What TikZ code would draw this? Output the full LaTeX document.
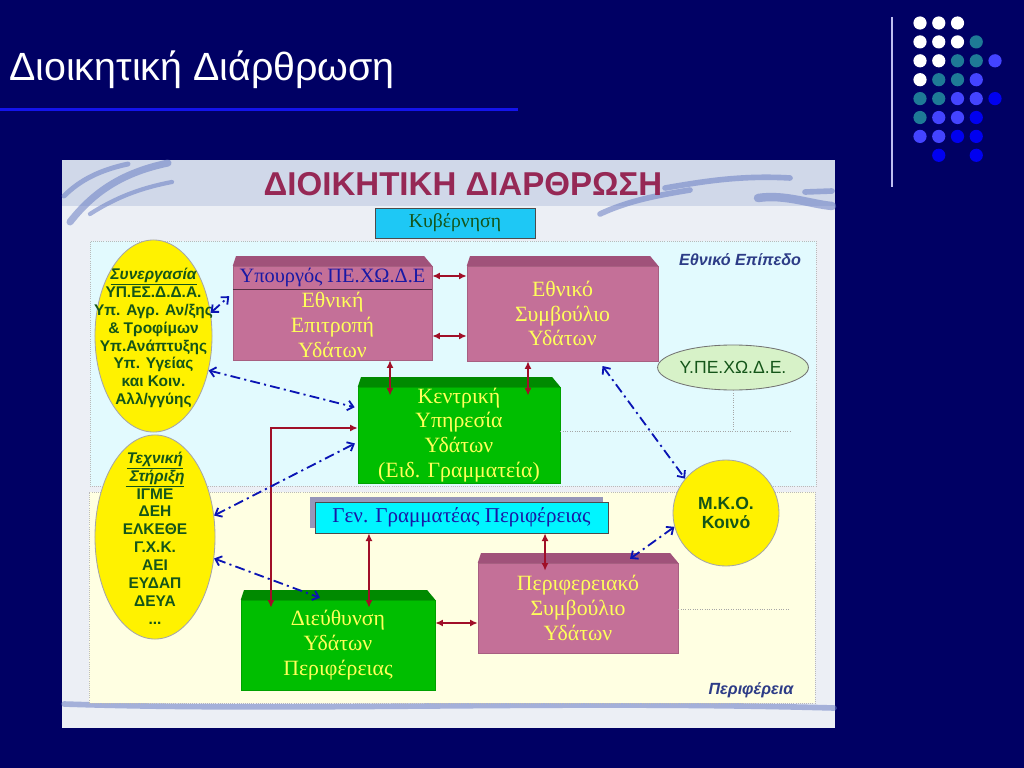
\documentclass[tikz,border=0pt]{standalone}
\usepackage{fontspec}
\setmainfont{Liberation Serif}
\setsansfont{Liberation Sans}
\usetikzlibrary{arrows.meta,shapes.geometric,shadows}

\definecolor{slidebg}{RGB}{0,0,100}
\definecolor{rulebl}{RGB}{20,20,235}
\definecolor{paper}{RGB}{236,239,245}
\definecolor{band}{RGB}{208,216,233}
\definecolor{wave}{RGB}{105,125,195}
\definecolor{natfill}{RGB}{226,250,254}
\definecolor{regfill}{RGB}{255,255,226}
\definecolor{mauve}{RGB}{196,112,152}
\definecolor{mauvetop}{RGB}{160,82,122}
\definecolor{leaf}{RGB}{0,190,0}
\definecolor{leaftop}{RGB}{0,138,0}
\definecolor{boxtext}{RGB}{255,255,90}
\definecolor{maroon}{RGB}{150,40,85}
\definecolor{govcyan}{RGB}{30,200,245}
\definecolor{seccyan}{RGB}{0,245,255}
\definecolor{shadowgray}{RGB}{150,150,185}
\definecolor{navytext}{RGB}{25,25,165}
\definecolor{ovaltext}{RGB}{20,85,25}
\definecolor{linkred}{RGB}{160,15,40}
\definecolor{linkblue}{RGB}{10,20,180}
\definecolor{levelblue}{RGB}{45,60,135}
\definecolor{mintfill}{RGB}{215,242,200}
\definecolor{dotteal}{RGB}{30,122,150}
\definecolor{dotmid}{RGB}{68,68,255}
\definecolor{dotblue}{RGB}{0,0,240}
\definecolor{sideline}{RGB}{190,190,240}

\newcommand\boxfont{\fontsize{15.5}{17.7}\selectfont}
\newcommand\ovalfont{\fontsize{11}{12.7}\selectfont\sffamily\bfseries}

\begin{document}
\begin{tikzpicture}[
  x=0.025cm, y=-0.025cm,
  pinkbox/.style ={fill=mauve, draw=mauve!85!black, line width=0.3pt, align=center,
                   text=boxtext, font=\boxfont, inner sep=0pt},
  greenbox/.style={fill=leaf, draw=leaf!85!black, line width=0.3pt, align=center,
                   text=boxtext, font=\boxfont, inner sep=0pt},
  cyanbox/.style ={draw=black!70, line width=0.4pt, align=center, inner sep=0pt,
                   font=\fontsize{15}{17}\selectfont},
  oval/.style    ={ellipse, fill=yellow, draw=gray!70, line width=0.6pt, inner sep=0pt},
  ovaltext/.style={align=center, text=ovaltext, font=\ovalfont, inner sep=0pt},
  level/.style   ={draw=gray!55, densely dotted, line width=0.5pt, inner sep=0pt},
  levellab/.style={text=levelblue, font=\sffamily\bfseries\itshape\fontsize{11.5}{13}\selectfont},
  redlink/.style ={{Latex[length=5.5pt,width=5pt]}-{Latex[length=5.5pt,width=5pt]},
                   line width=1.4pt, draw=linkred},
  bluelink/.style={{Straight Barb[length=4pt,width=7pt]}-{Straight Barb[length=4pt,width=7pt]},
                   line width=1.3pt, draw=linkblue, dash pattern=on 7pt off 3pt on 1.5pt off 3pt},
  guide/.style   ={draw=gray!70, densely dotted, line width=0.7pt},
  wavy/.style    ={draw=wave, line width=5pt, line cap=round, opacity=0.55},
]
% Slide background, title and the dot pattern on the right.
\useasboundingbox (0,0) rectangle (1024,768);
\fill[slidebg] (0,0) rectangle (1024,768);
\node[anchor=base west, inner sep=0pt, text=white, font=\sffamily\fontsize{28}{32}\selectfont]
  (slidetitle) at (9,81) {Διοικητική Διάρθρωση};
\fill[rulebl] (0,108.5) rectangle (518,111.5);
\draw[sideline, line width=1.1pt] (892,17) -- (892,187);
\foreach \i/\j/\c in {1/1/white,2/1/white,3/1/white,
                      1/2/white,2/2/white,3/2/white,4/2/dotteal,
                      1/3/white,2/3/white,3/3/dotteal,4/3/dotteal,5/3/dotmid,
                      1/4/white,2/4/dotteal,3/4/dotteal,4/4/dotmid,
                      1/5/dotteal,2/5/dotteal,3/5/dotmid,4/5/dotmid,5/5/dotblue,
                      1/6/dotteal,2/6/dotmid,3/6/dotmid,4/6/dotblue,
                      1/7/dotmid,2/7/dotmid,3/7/dotblue,4/7/dotblue,
                      2/8/dotblue,4/8/dotblue}
  \fill[\c] (901.25+18.75*\i, 4.1+18.9*\j) circle[radius=0.165cm];

% Picture panel with its brush-stroke border.
\fill[paper] (62,160) rectangle (835,728);
\fill[band] (62,160) rectangle (835,206);
\draw[wavy] (70,222) .. controls (95,190) and (125,172) .. (168,163);
\draw[wavy, line width=3pt] (90,214) .. controls (115,198) and (140,188) .. (172,182);
\draw[wavy, line width=3.5pt] (64,196) .. controls (80,180) and (100,170) .. (128,164);
\draw[wavy, line width=4pt] (600,214) .. controls (630,200) and (660,195) .. (690,190);
\draw[wavy, line width=4pt] (665,188) .. controls (700,182) and (740,175) .. (790,178);
\draw[wavy, line width=6pt] (758,198) .. controls (785,194) and (810,204) .. (832,206);
\draw[wavy, line width=4pt] (805,192) -- (832,191);
\draw[wavy, line width=4pt] (64,704) .. controls (300,712) and (550,700) .. (834,708);
\node[font=\sffamily\bfseries\fontsize{23.5}{26}\selectfont, text=maroon, anchor=base]
  (paneltitle) at (463,195) {ΔΙΟΙΚΗΤΙΚΗ ΔΙΑΡΘΡΩΣΗ};

% National and regional levels.
\node[level, fill=natfill, minimum width=18.15cm, minimum height=6.125cm] (natl) at (453,363.5) {};
\node[level, fill=regfill, minimum width=18.15cm, minimum height=5.275cm] (regl) at (452,597.5) {};
\node[levellab] (natlab) at (740,260) {Εθνικό Επίπεδο};
\node[levellab] (reglab) at (751,690) {Περιφέρεια};

% Boxes.
\node[cyanbox, fill=govcyan, text=ovaltext, minimum width=4cm, minimum height=0.75cm,
      font=\fontsize{14}{16}\selectfont] (gov) at (455,223) {Κυβέρνηση};
\node[pinkbox, minimum width=4.975cm, minimum height=2.35cm] (mins) at (332.5,313)
  {{\color{navytext}\fontsize{14.5}{17.7}\selectfont Υπουργός ΠΕ.ΧΩ.Δ.Ε}\\Εθνική\\Επιτροπή\\Υδάτων};
\node[pinkbox, minimum width=4.775cm, minimum height=2.375cm] (ncw) at (562.5,313.5)
  {Εθνικό\\Συμβούλιο\\Υδάτων};
\node[greenbox, minimum width=5.05cm, minimum height=2.4cm] (cwa) at (459,435)
  {Κεντρική\\Υπηρεσία\\Υδάτων\\(Ειδ. Γραμματεία)};
\node[cyanbox, fill=seccyan, text=navytext, minimum width=7.325cm, minimum height=0.775cm,
      general shadow={fill=shadowgray, shadow xshift=-0.12cm, shadow yshift=0.12cm}]
  (gsr) at (461.5,517.5) {Γεν. Γραμματέας Περιφέρειας};
\node[greenbox, minimum width=4.85cm, minimum height=2.25cm] (drw) at (338,645)
  {Διεύθυνση\\Υδάτων\\Περιφέρειας};
\node[pinkbox, minimum width=5cm, minimum height=2.25cm] (rcw) at (578,608)
  {Περιφερειακό\\Συμβούλιο\\Υδάτων};

% Top faces of the raised boxes.
\foreach \n/\c in {mins/mauvetop, ncw/mauvetop, rcw/mauvetop, cwa/leaftop, drw/leaftop}
  \fill[\c] (\n.north west) -- ([xshift=0.08cm, yshift=0.24cm]\n.north west)
         -- ([xshift=-0.2cm, yshift=0.24cm]\n.north east) -- (\n.north east) -- cycle;
\draw[draw=mauvetop!55!black, line width=0.8pt] ([yshift=-0.6cm]mins.north west) -- ([yshift=-0.6cm]mins.north east);

% Ovals and partners.
\node[oval, minimum width=2.925cm, minimum height=4.8cm] (coop) at (153.5,336) {};
\node[ovaltext] (cooptext) at (153.5,338)
  {\underline{\itshape Συνεργασία}\\ΥΠ.ΕΣ.Δ.Δ.Α.\\Υπ. Αγρ. Αν/ξης\\\& Τροφίμων\\Υπ.Ανάπτυξης\\Υπ. Υγείας\\και Κοιν.\\Αλλ/γγύης};
\node[oval, minimum width=3cm, minimum height=5.1cm] (tech) at (155,537) {};
\node[ovaltext] (techtext) at (155,538)
  {\underline{\itshape Τεχνική}\\\underline{\itshape \ Στήριξη}\\ΙΓΜΕ\\ΔΕΗ\\ΕΛΚΕΘΕ\\Γ.Χ.Κ.\\ΑΕΙ\\ΕΥΔΑΠ\\ΔΕΥΑ\\...};
\node[ellipse, fill=mintfill, draw=black!55, line width=0.6pt, text=ovaltext, inner sep=0pt,
      font=\sffamily\fontsize{12.5}{14}\selectfont, minimum width=3.25cm, minimum height=1.125cm]
  (ypex) at (733,367.5) {Υ.ΠΕ.ΧΩ.Δ.Ε.};
\node[circle, fill=yellow, draw=gray!70, line width=0.6pt, text=ovaltext, align=center, inner sep=0pt,
      font=\sffamily\bfseries\fontsize{12.5}{13.5}\selectfont, minimum size=2.65cm]
  (mko) at (726,513) {Μ.Κ.Ο.\\Κοινό};

% Dotted guide lines.
\coordinate (natend) at (790,431);
\coordinate (regend) at (790,609);
\draw[guide] (cwa.east |- natend) -- (natend);
\draw[guide] (ypex.south) -- (ypex.south |- natend);
\draw[guide] (rcw.east |- regend) -- (regend);

% Red links between bodies.
\draw[redlink] ([yshift=0.925cm]mins.east) -- ([yshift=0.925cm]mins.east -| ncw.west);
\draw[redlink] ([yshift=-0.575cm]mins.east) -- ([yshift=-0.575cm]mins.east -| ncw.west);
\draw[redlink, shorten >=-0.22cm] ([xshift=1.4375cm]mins.south) -- ([xshift=1.4375cm]mins.south |- cwa.north);
\draw[redlink, shorten >=-0.22cm] ([xshift=-0.8625cm]ncw.south) -- ([xshift=-0.8625cm]ncw.south |- cwa.north);
\draw[redlink, shorten >=-0.2cm] ([xshift=-2.3125cm]gsr.south) -- ([xshift=-2.3125cm]gsr.south |- drw.north);
\draw[redlink, shorten >=-0.2cm] ([xshift=2.0875cm]gsr.south) -- ([xshift=2.0875cm]gsr.south |- rcw.north);
\draw[redlink] ([yshift=0.55cm]drw.east) -- ([yshift=0.55cm]drw.east -| rcw.west);
\draw[redlink, shorten >=-0.2cm] ([yshift=0.175cm]cwa.west) -| ([xshift=-1.675cm]drw.north);

% Blue dash-dot links to partners.
\draw[bluelink, shorten >=0.12cm] (coop.22) -- ([yshift=0.5cm]mins.west);
\draw[bluelink, shorten >=0.08cm] (coop.-32) -- ([yshift=0.675cm]cwa.west);
\draw[bluelink, shorten >=0.08cm] (tech.20) -- ([yshift=-0.175cm]cwa.west);
\draw[bluelink] (tech.-20) -- ([xshift=-0.45cm, yshift=0.05cm]drw.north);
\draw[bluelink] ([xshift=1cm, yshift=-0.12cm]ncw.south) -- (mko.140);
\draw[bluelink] (mko.195) -- ([xshift=1.3cm, yshift=0.1cm]rcw.north);
\end{tikzpicture}
\end{document}
